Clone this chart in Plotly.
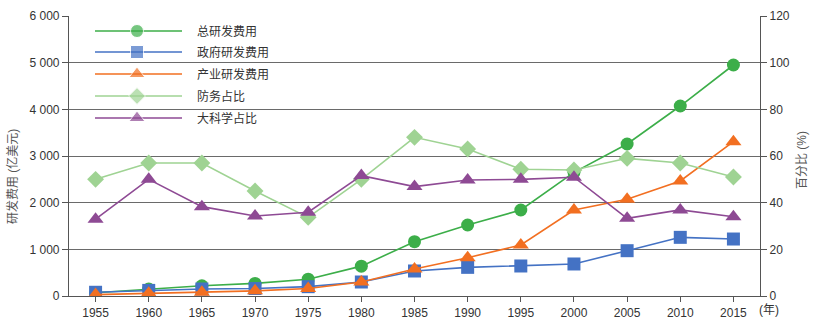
import plotly.graph_objects as go

years = [1955, 1960, 1965, 1970, 1975, 1980, 1985, 1990, 1995, 2000, 2005, 2010, 2015]
total_rd = [70, 150, 220, 270, 360, 640, 1164, 1521, 1843, 2650, 3257, 4071, 4950]
gov_rd = [80, 120, 150, 160, 200, 300, 536, 614, 643, 686, 971, 1257, 1221]
ind_rd = [30, 60, 80, 110, 160, 300, 578, 821, 1093, 1843, 2071, 2464, 3307]
defense_pct = [50, 57, 57, 45, 33.7, 50, 68, 63, 54.3, 54, 59, 57, 51]
bigsci_pct = [32.9, 50, 38.3, 34.3, 35.9, 51.6, 46.9, 49.7, 50, 50.9, 33.3, 36.9, 34]

names = ["总研发费用", "政府研发费用", "产业研发费用", "防务占比", "大科学占比"]
colors = ["#3cae49", "#4472c4", "#f26f21", "#9fd393", "#8e4a94"]
symbols = ["circle", "square", "triangle-up", "diamond", "triangle-up"]
sizes = [13, 13, 14, 13, 14]
series = [total_rd, gov_rd, ind_rd, defense_pct, bigsci_pct]
axes = ["y", "y", "y", "y2", "y2"]

left_ticks = [0, 1000, 2000, 3000, 4000, 5000, 6000]
left_ticktext = ["0", "1 000", "2 000", "3 000", "4 000", "5 000", "6 000"]
right_ticks = [0, 20, 40, 60, 80, 100, 120]

W, H = 815, 323
L, R, T, B = 69, 55, 16, 27
pw, ph = W - L - R, H - T - B

fig = go.Figure()
# draw percent series first (behind), then money series
order = [3, 4, 0, 1, 2]
for i in order:
    fig.add_trace(go.Scatter(
        x=years, y=series[i], name=names[i], yaxis=axes[i],
        mode="lines+markers",
        line=dict(color=colors[i], width=1.6),
        marker=dict(symbol=symbols[i], size=sizes[i], color=colors[i]),
        showlegend=False,
    ))

# custom legend (long line samples)
leg_rows = [31, 52, 74, 96, 118]
lx0, lxm, lx1, tx = 95, 137, 182, 195
annotations = []
for i in range(5):
    yf = (H - B - leg_rows[i]) / ph
    fig.add_trace(go.Scatter(
        x=[(lx0 - L) / pw, (lxm - L) / pw, (lx1 - L) / pw], y=[yf, yf, yf],
        xaxis="x3", yaxis="y3", mode="lines+markers",
        line=dict(color=colors[i], width=1.6),
        marker=dict(symbol=symbols[i], size=[0, sizes[i], 0], color=colors[i]),
        showlegend=False, hoverinfo="skip",
    ))
    annotations.append(dict(
        x=(tx - L) / pw, y=yf, xref="paper", yref="paper", text=names[i],
        showarrow=False, xanchor="left", yanchor="middle",
        font=dict(size=12, color="#333333"),
    ))

annotations += [
    dict(x=(12 - L) / pw, y=(H - B - 177) / ph, xref="paper", yref="paper", text="研发费用 (亿美元)",
         textangle=-90, showarrow=False, xanchor="center", yanchor="middle",
         font=dict(size=12, color="#555555")),
    dict(x=(802 - L) / pw, y=(H - B - 160) / ph, xref="paper", yref="paper", text="百分比 (%)",
         textangle=-90, showarrow=False, xanchor="center", yanchor="middle",
         font=dict(size=12, color="#555555")),
    dict(x=(769 - L) / pw, y=(H - B - 310) / ph, xref="paper", yref="paper", text="(年)",
         showarrow=False, xanchor="center", yanchor="middle",
         font=dict(size=12, color="#333333")),
]

fig.update_layout(
    width=W, height=H,
    margin=dict(l=L, r=R, t=T, b=B, autoexpand=False),
    plot_bgcolor="white", paper_bgcolor="white",
    font=dict(family="Liberation Sans, Noto Sans CJK SC, sans-serif", size=12, color="#333333"),
    showlegend=False,
    annotations=annotations,
    xaxis=dict(
        range=[1952.5, 2017.5], tickmode="array", tickvals=years,
        showgrid=False, zeroline=False, automargin=False,
        showline=True, linecolor="#555555", linewidth=1.2,
        ticks="outside", ticklen=5, tickcolor="#555555",
        tickfont=dict(size=12, color="#333333"),
    ),
    yaxis=dict(
        range=[0, 6000], tickmode="array", tickvals=left_ticks, ticktext=left_ticktext,
        showgrid=True, gridcolor="#6a6a6a", gridwidth=1.2, zeroline=False, automargin=False,
        showline=True, linecolor="#555555", linewidth=1.2,
        ticks="outside", ticklen=6, tickcolor="#555555",
        tickfont=dict(size=12, color="#333333"),
    ),
    yaxis2=dict(
        range=[0, 120], tickmode="array", tickvals=right_ticks,
        overlaying="y", side="right", showgrid=False, zeroline=False, automargin=False,
        showline=True, linecolor="#555555", linewidth=1.2,
        ticks="outside", ticklen=6, tickcolor="#555555",
        tickfont=dict(size=12, color="#333333"),
    ),
    xaxis3=dict(range=[0, 1], overlaying="x", visible=False, fixedrange=True),
    yaxis3=dict(range=[0, 1], overlaying="y", visible=False, fixedrange=True),
)

fig.write_html("out.html")
